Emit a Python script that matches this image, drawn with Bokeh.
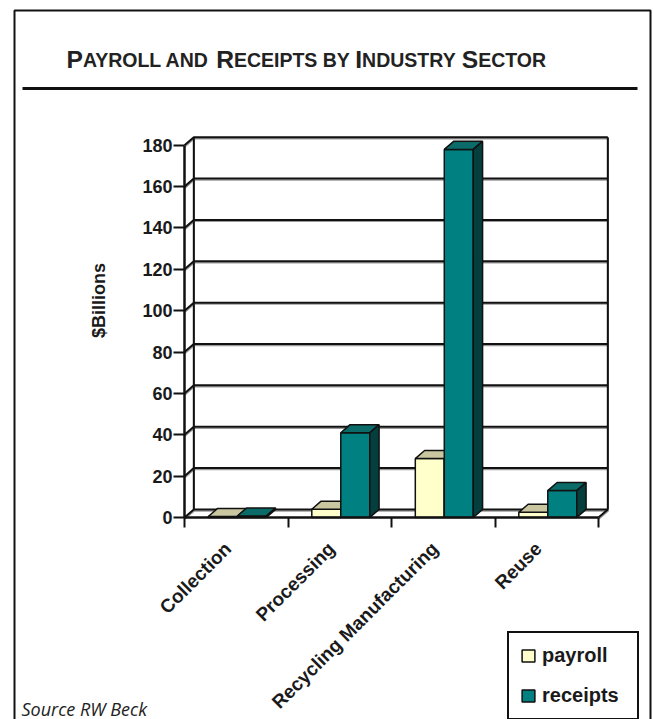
import math
from bokeh.plotting import figure
from bokeh.models import (Range1d, FixedTicker, Label, BoxAnnotation, Legend,
                          LegendItem, ColumnDataSource)
from bokeh.embed import file_html
from bokeh.resources import INLINE

# ---------------- data ----------------
categories = ["Collection", "Processing", "Recycling Manufacturing", "Reuse"]
payroll = [0.5, 4, 28.5, 2.5]
receipts = [0.7, 41, 178, 13]
y_ticks = [0, 20, 40, 60, 80, 100, 120, 140, 160, 180]
series_names = ["payroll", "receipts"]

title_text = "Payroll and Receipts by Industry Sector"
y_label = "$Billions"
source_text = "Source RW Beck"

# ---------------- layout / style constants ----------------
W, H = 653, 719
M = 0                       # page offset of the canvas
OX, OY = 184, 517           # page position of the data origin
PX_X, PX_Y = 103.5, 2.068   # pixels per category / per $billion
DX, DY = 0.09, 3.9          # 3-D depth offsets (data units)
BAR_W = 0.28
SERIES_OFF = [0.23, 0.51]
LABEL_POS = 0.42            # where category names hang inside each slot
FACE_COLORS = {
    "payroll": ("#FFFFCC", "#C9C6A0", "#99976F"),
    "receipts": ("#008080", "#0A6B68", "#043F3D"),
}
TXT = "#1a1a1a"


def sx(px):
    return px - M


def sy(py):
    return (M + H) - py


x_range = Range1d(-(OX - M) / PX_X, (M + W - OX) / PX_X)
y_range = Range1d(-(M + H - OY) / PX_Y, (OY - M) / PX_Y)

p = figure(width=W, height=H, x_range=x_range, y_range=y_range,
           output_backend="svg", toolbar_location=None,
           min_border_left=0, min_border_right=0, min_border_top=0, min_border_bottom=0)
p.xgrid.visible = False
p.ygrid.visible = False
p.outline_line_color = None
p.background_fill_color = "white"
p.border_fill_color = "white"

n = len(categories)
ymax = y_ticks[-1]

# ---------------- walls / gridlines ----------------
gxs, gys = [], []
for v in y_ticks:
    gxs.append([0, DX, n + DX])
    gys.append([v, v + DY, v + DY])
gxs += [[DX, DX], [n + DX, n + DX], [n, n + DX]]
gys += [[DY, ymax + DY], [DY, ymax + DY], [0, DY]]
p.multi_line([[x + 0.004 for x in xs] for xs in gxs], [[y - 0.7 for y in ys] for ys in gys],
             line_color="#9a9a9a", line_width=1.5)
p.multi_line(gxs, gys, line_color="#111111", line_width=2)

# ---------------- 3-D bars ----------------
renderers = []
for si, (name, vals) in enumerate(zip(series_names, [payroll, receipts])):
    xs, ys, colors = [], [], []
    front_c, top_c, side_c = FACE_COLORS[name]
    for i, h in enumerate(vals):
        x0 = i + SERIES_OFF[si]
        x1 = x0 + BAR_W
        xs.append([x0, x1, x1, x0]); ys.append([0, 0, h, h]); colors.append(front_c)
        xs.append([x0, x1, x1 + DX, x0 + DX]); ys.append([h, h, h + DY, h + DY]); colors.append(top_c)
        xs.append([x1, x1 + DX, x1 + DX, x1]); ys.append([0, DY, h + DY, h]); colors.append(side_c)
    src = ColumnDataSource(dict(xs=xs, ys=ys, color=colors))
    r = p.patches("xs", "ys", source=src, fill_color="color", line_color="#111111",
                  line_width=1.5)
    renderers.append(r)

# ---------------- axes (fixed at the data origin) ----------------
ya = p.yaxis[0]
ya.fixed_location = 0
ya.ticker = FixedTicker(ticks=y_ticks)
ya.bounds = (0, ymax)
ya.axis_line_width = 2.5
ya.axis_line_color = "#111111"
ya.major_tick_out = 11
ya.major_tick_in = 0
ya.major_tick_line_width = 2
ya.major_tick_line_color = "#111111"
ya.minor_tick_line_color = None
ya.major_label_standoff = 1
ya.major_label_text_font = "Liberation Sans"
ya.major_label_text_font_style = "bold"
ya.major_label_text_font_size = "18px"
ya.major_label_text_color = TXT

xa = p.xaxis[0]
xa.fixed_location = 0
label_ticks = [i + LABEL_POS for i in range(n)]
xa.ticker = FixedTicker(ticks=label_ticks, minor_ticks=list(range(n + 1)))
xa.bounds = (0, n)
xa.axis_line_width = 2.5
xa.axis_line_color = "#111111"
xa.major_tick_out = 0
xa.major_tick_in = 0
xa.major_tick_line_color = None
xa.minor_tick_out = 10
xa.minor_tick_in = 0
xa.minor_tick_line_width = 2
xa.minor_tick_line_color = "#111111"
xa.major_label_orientation = math.pi / 4
xa.major_label_overrides = {t: c for t, c in zip(label_ticks, categories)}
xa.major_label_standoff = 18
xa.major_label_text_font = "Liberation Sans"
xa.major_label_text_font_style = "bold"
xa.major_label_text_font_size = "19px"
xa.major_label_text_color = TXT

# ---------------- legend ----------------
legend = Legend(items=[LegendItem(label=nm, renderers=[r], index=0)
                       for nm, r in zip(series_names, renderers)],
                location=(sx(507), sy(720)))
legend.border_line_color = "#111111"
legend.border_line_alpha = 1
legend.border_line_width = 2.5
legend.padding = 11
legend.spacing = 17
legend.margin = 0
legend.glyph_width = 16
legend.glyph_height = 15
legend.label_height = 18
legend.label_width = 84
legend.label_standoff = 6
legend.label_text_font = "Liberation Sans"
legend.label_text_font_style = "bold"
legend.label_text_font_size = "20px"
legend.label_text_color = TXT
legend.background_fill_color = "white"
legend.background_fill_alpha = 1
p.add_layout(legend)

# ---------------- frame decorations ----------------
p.add_layout(BoxAnnotation(left=sx(14), right=sx(650), top=sy(10), bottom=sy(760),
                           left_units="screen", right_units="screen",
                           top_units="screen", bottom_units="screen",
                           fill_alpha=0, line_color="#111111", line_alpha=1, line_width=2))
p.add_layout(BoxAnnotation(left=sx(22), right=sx(637), top=sy(86.5), bottom=sy(89.5),
                           left_units="screen", right_units="screen",
                           top_units="screen", bottom_units="screen",
                           fill_color="#111111", fill_alpha=1, line_color=None))

# ---------------- title in small caps ----------------
ARIAL_BOLD = {'A': 722, 'B': 722, 'C': 722, 'D': 722, 'E': 667, 'F': 611, 'G': 778,
              'H': 722, 'I': 278, 'J': 556, 'K': 722, 'L': 611, 'M': 833, 'N': 722,
              'O': 778, 'P': 667, 'Q': 778, 'R': 722, 'S': 667, 'T': 611, 'U': 722,
              'V': 667, 'W': 944, 'X': 667, 'Y': 667, 'Z': 611, ' ': 278}
BIG, SMALL = 24.6, 19.5
runs = []
for ch in title_text:
    big = ch.isupper()
    if runs and runs[-1][1] == big:
        runs[-1][0] += ch.upper()
    else:
        runs.append([ch.upper(), big])
x_cursor = 66
for txt, big in runs:
    size = BIG if big else SMALL
    p.add_layout(Label(x=sx(x_cursor), y=sy(59), x_units="screen", y_units="screen",
                       text=txt, text_font="Liberation Sans", text_font_style="bold",
                       text_font_size=f"{size}px",
                       text_color="#222222", text_align="left", text_baseline="alphabetic"))
    x_cursor += sum(ARIAL_BOLD.get(c, 600) for c in txt) * size / 1000.0

# ---------------- y label & source ----------------
p.add_layout(Label(x=sx(98), y=sy(300), x_units="screen", y_units="screen",
                   text=y_label, angle=math.pi / 2, text_font="Liberation Sans",
                   text_font_style="bold", text_font_size="18px", text_color=TXT,
                   text_align="center", text_baseline="middle"))
p.add_layout(Label(x=sx(21), y=sy(708), x_units="screen", y_units="screen",
                   text=source_text, text_font="Open Sans", text_font_style="italic",
                   text_font_size="18px", text_color="#222222",
                   text_align="left", text_baseline="alphabetic"))

open("out.html", "w").write(file_html(p, INLINE))
